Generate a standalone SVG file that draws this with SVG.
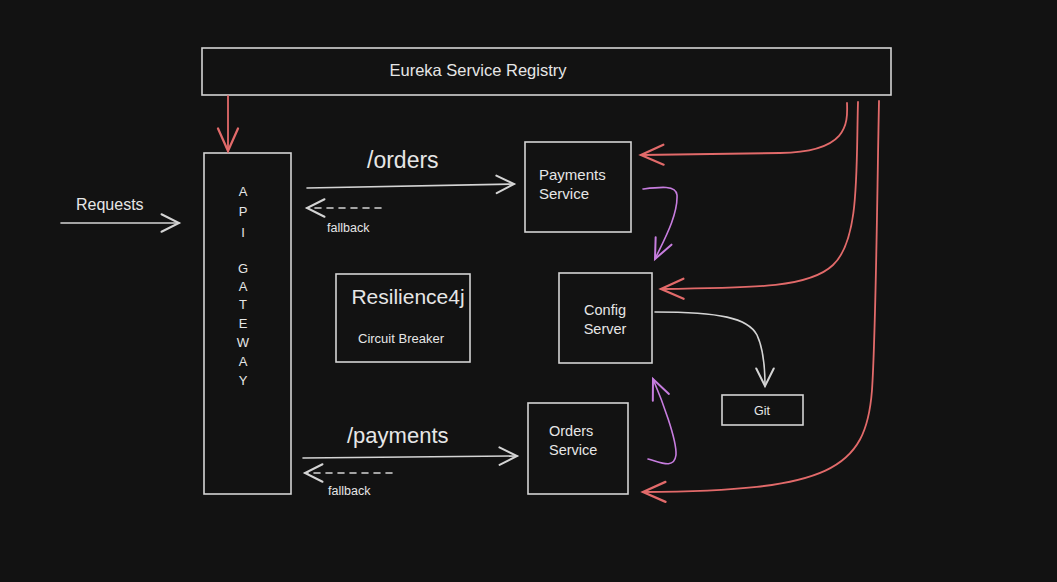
<svg xmlns="http://www.w3.org/2000/svg" width="1057" height="582" viewBox="0 0 1057 582">
<defs>
<style>
.box{fill:#121212;stroke:#d4d4d4;stroke-width:1.6}
.t{fill:#e6e6e6;font-family:"Liberation Sans","DejaVu Sans",sans-serif}
.w{fill:none;stroke:#d4d4d4;stroke-width:1.6;stroke-linecap:round}
.r{fill:none;stroke:#e26a6a;stroke-width:1.8;stroke-linecap:round}
.p{fill:none;stroke:#c77ddf;stroke-width:1.6;stroke-linecap:round}
.d{stroke-dasharray:6 6}
</style>
<marker id="aw" markerUnits="userSpaceOnUse" markerWidth="30" markerHeight="30" refX="0" refY="0" viewBox="-20 -12 24 24" orient="auto" overflow="visible"><path d="M-14,-7 L0,0 L-14,7" fill="none" stroke="#d4d4d4" stroke-width="1.6" stroke-linecap="round"/></marker>
<marker id="ar" markerUnits="userSpaceOnUse" markerWidth="30" markerHeight="30" refX="0" refY="0" viewBox="-20 -12 24 24" orient="auto" overflow="visible"><path d="M-18,-8 L0,0 L-18,8" fill="none" stroke="#e26a6a" stroke-width="1.8" stroke-linecap="round"/></marker>
<marker id="ap" markerUnits="userSpaceOnUse" markerWidth="30" markerHeight="30" refX="0" refY="0" viewBox="-20 -12 24 24" orient="auto" overflow="visible"><path d="M-16,-7 L0,0 L-16,7" fill="none" stroke="#c77ddf" stroke-width="1.6" stroke-linecap="round"/></marker>
</defs>
<rect width="1057" height="582" fill="#121212"/>

<g id="eureka">
<rect class="box" x="202" y="48" width="689" height="47"/>
<text class="t" x="478" y="76" font-size="16.5" text-anchor="middle">Eureka Service Registry</text>
</g>
<g id="gateway">
<rect class="box" x="204" y="153" width="87" height="341"/>
<g class="t" font-size="13" text-anchor="middle">
<text x="243" y="196">A</text><text x="243" y="216">P</text><text x="243" y="237">I</text>
<text x="243" y="273">G</text><text x="243" y="291">A</text><text x="243" y="309">T</text>
<text x="243" y="328">E</text><text x="243" y="347">W</text><text x="243" y="366">A</text><text x="243" y="385">Y</text>
</g>
</g>
<g id="payments">
<rect class="box" x="525" y="142" width="106" height="90"/>
<text class="t" x="539" y="180" font-size="15">Payments</text>
<text class="t" x="539" y="199" font-size="15">Service</text>
</g>
<g id="resilience">
<rect class="box" x="336" y="274" width="134" height="88"/>
<text class="t" x="408" y="304" font-size="21" text-anchor="middle">Resilience4j</text>
<text class="t" x="401" y="343" font-size="13" text-anchor="middle">Circuit Breaker</text>
</g>
<g id="config">
<rect class="box" x="559" y="273" width="93" height="90"/>
<text class="t" x="605" y="315" font-size="14.5" text-anchor="middle">Config</text>
<text class="t" x="605" y="334" font-size="14.5" text-anchor="middle">Server</text>
</g>
<g id="orders">
<rect class="box" x="528" y="403" width="100" height="91"/>
<text class="t" x="549" y="436" font-size="14.5">Orders</text>
<text class="t" x="549" y="455" font-size="14.5">Service</text>
</g>
<g id="git">
<rect class="box" x="722" y="395" width="81" height="30"/>
<text class="t" x="762" y="415" font-size="12.5" text-anchor="middle">Git</text>
</g>

<g id="labels">
<text class="t" x="76" y="210" font-size="16">Requests</text>
<text class="t" x="367" y="168" font-size="23">/orders</text>
<text class="t" x="327" y="232" font-size="12.5">fallback</text>
<text class="t" x="347" y="443" font-size="22">/payments</text>
<text class="t" x="328" y="495" font-size="12.5">fallback</text>
</g>

<g id="connectors">
<path class="w" d="M61,223 L179,223" marker-end="url(#aw)"/>
<path class="w" d="M307,188 L514,184" marker-end="url(#aw)"/>
<path class="w d" d="M381,208 L307,208" marker-end="url(#aw)"/>
<path class="w" d="M303,458 L517,456" marker-end="url(#aw)"/>
<path class="w d" d="M392,473 L305,473" marker-end="url(#aw)"/>
<path class="w" d="M655,312 C720,312 748,318 757,335 C764,350 765,370 765,386" marker-end="url(#aw)"/>
<path class="r" d="M228,96 L228,151" marker-end="url(#ar)"/>
<path class="r" d="M847,103 C848,125 847,152 780,153 L641,155" marker-end="url(#ar)"/>
<path class="r" d="M858,102 C856,170 860,240 833,265 C810,287 760,288 661,289" marker-end="url(#ar)"/>
<path class="r" d="M879,101 C877,200 876,330 872,390 C866,470 830,491 643,492" marker-end="url(#ar)"/>
<path class="p" d="M643,189 C660,187 676,185 677,195 C678,215 664,240 655,259" marker-end="url(#ap)"/>
<path class="p" d="M648,459 C660,462 674,470 676,455 C677,440 662,400 653,379" marker-end="url(#ap)"/>
</g>
</svg>
